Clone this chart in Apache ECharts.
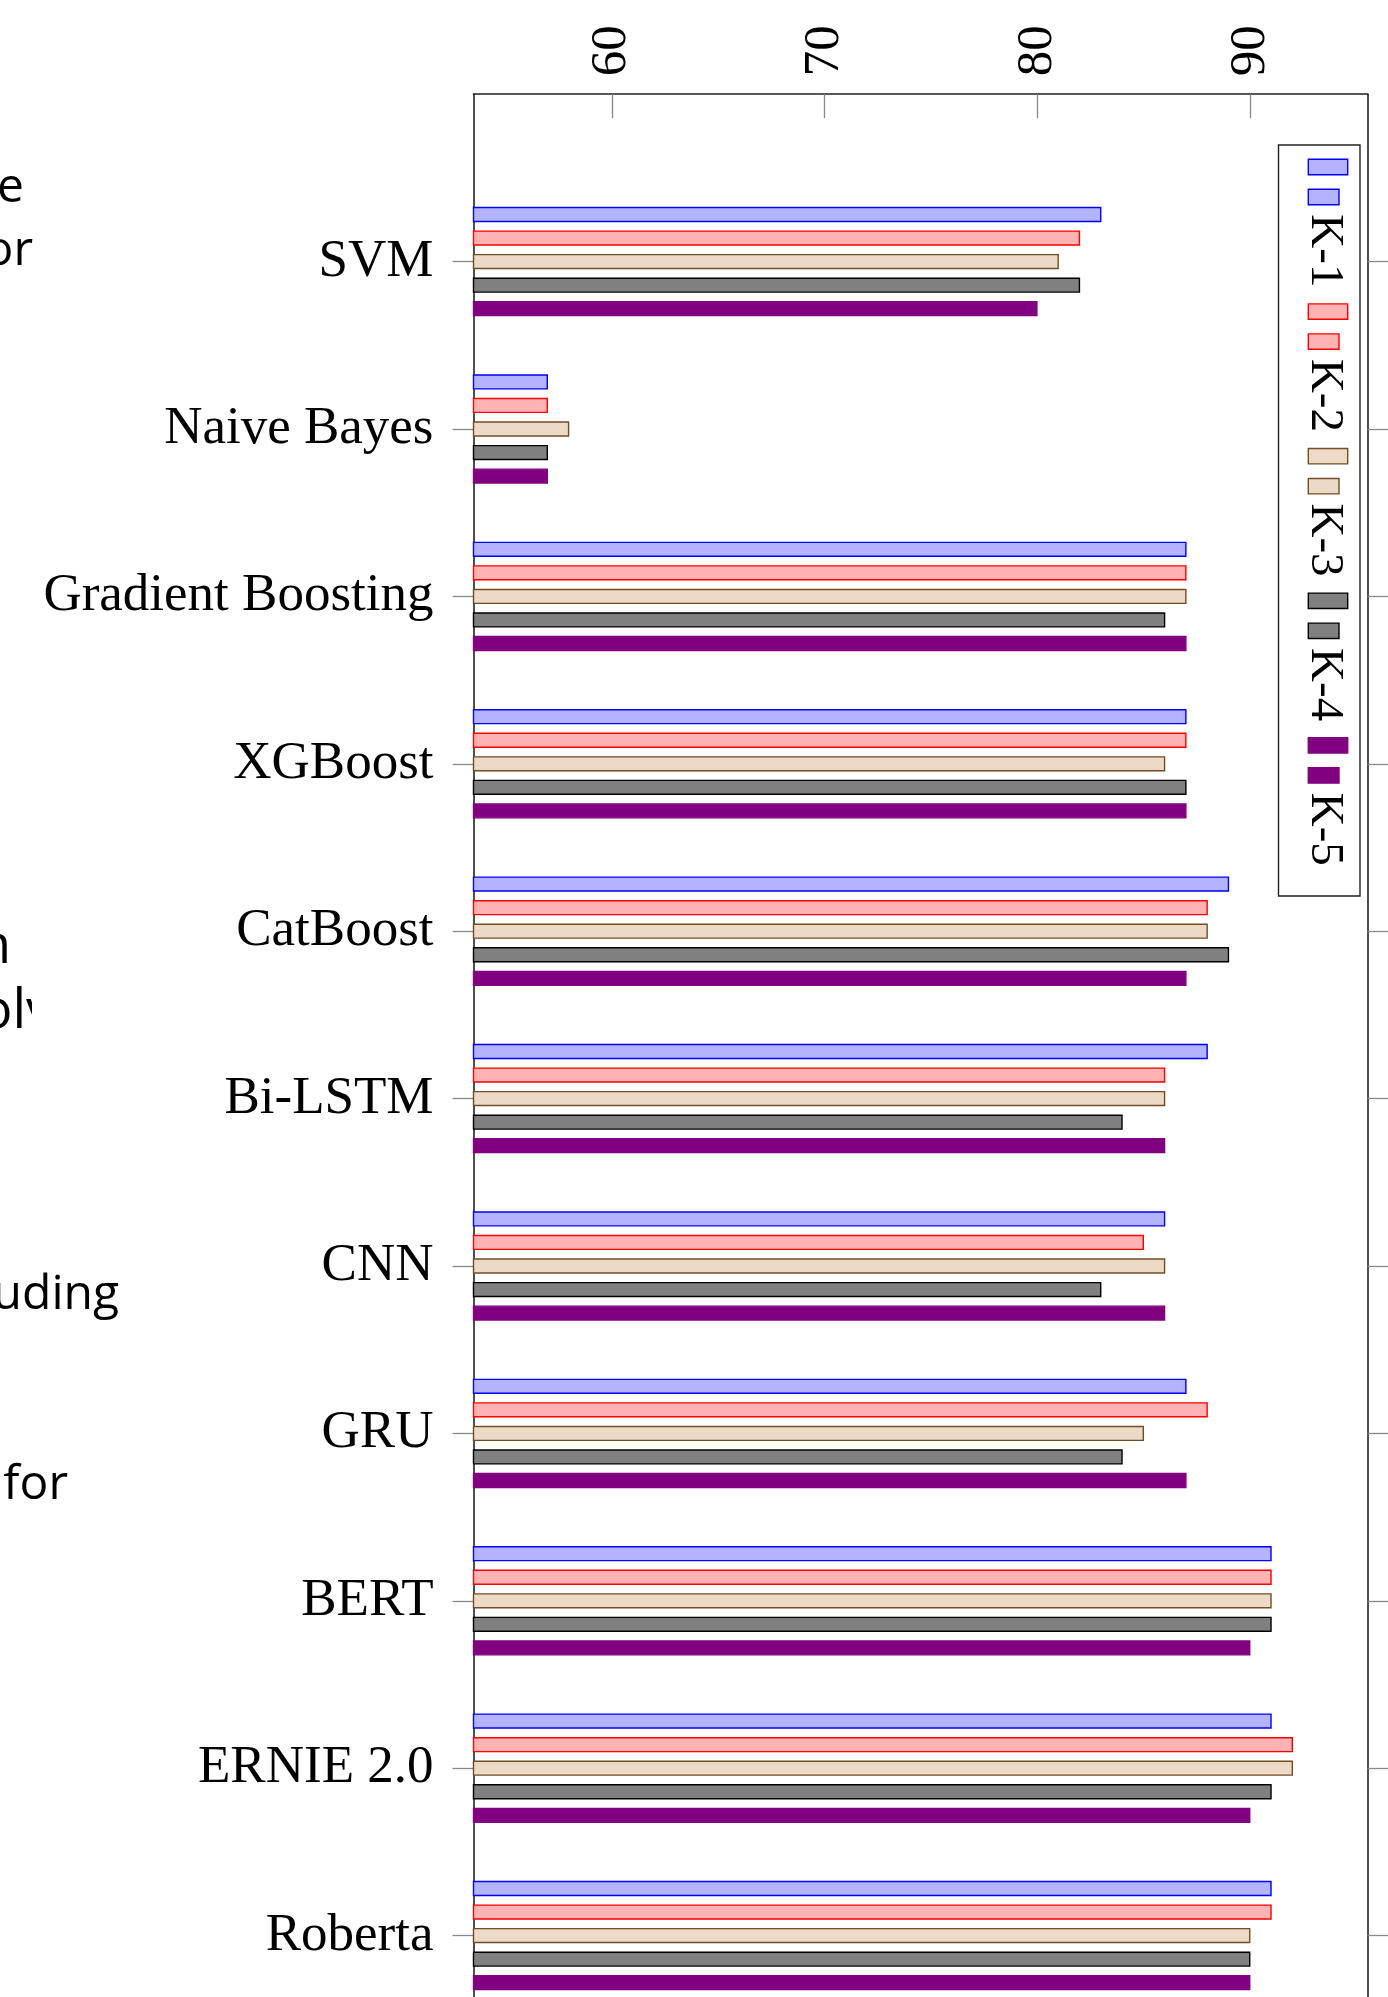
<!DOCTYPE html>
<html>
<head>
<meta charset="utf-8">
<script src="https://cdn.jsdelivr.net/npm/echarts@6/dist/echarts.min.js"></script>
<style>
html, body { margin: 0; padding: 0; background: #fff; }
#chart { width: 1388px; height: 1997px; }
</style>
</head>
<body>
<div id="chart"></div>
<script>
// Accuracy (%) per model for each fold K-1 … K-5
const models = ['SVM', 'Naive Bayes', 'Gradient Boosting', 'XGBoost', 'CatBoost', 'Bi-LSTM', 'CNN', 'GRU', 'BERT', 'ERNIE 2.0', 'Roberta'];
const seriesNames = ['K-1', 'K-2', 'K-3', 'K-4', 'K-5'];
const k1 = [83, 57, 87, 87, 89, 88, 86, 87, 91, 91, 91];
const k2 = [82, 57, 87, 87, 88, 86, 85, 88, 91, 92, 91];
const k3 = [81, 58, 87, 86, 88, 86, 86, 85, 91, 92, 90];
const k4 = [82, 57, 86, 87, 89, 84, 83, 84, 91, 91, 90];
const k5 = [80, 57, 87, 87, 87, 86, 86, 87, 90, 90, 90];
const xTicks = [60, 70, 80, 90];

// bar styles (fill / outline) per fold
const fills   = ['#b3b3ff', '#ffb3b3', '#ecd9c6', '#808080', '#800080'];
const strokes = ['#0000ff', '#ff0000', '#734d26', '#000000', '#800080'];

const SERIF = '"Liberation Serif", "Times New Roman", serif';
const SANS = '"Open Sans", "Noto Sans", sans-serif';

// one empty slot above and below the models keeps a full step of space at the ends
const yCats = [''].concat(models, [' ']);
const values = [k1, k2, k3, k4, k5];

const STEP = 167.4;
const gridTop = 94.2;
const gridLeft = 473.5;
const gridWidth = 894;

const isCat = function (idx, v) { return String(v).trim() !== ''; };

// rotated legend box on the right
const legendEls = [{
  type: 'rect', z: 10,
  shape: { x: 1278.5, y: 145, width: 81.5, height: 751 },
  style: { fill: '#fff', stroke: '#222', lineWidth: 1.4 }
}];
seriesNames.forEach(function (name, i) {
  const y0 = 159.3 + i * 144.6;
  legendEls.push({
    type: 'rect', z: 11,
    shape: { x: 1308.3, y: y0, width: 39.4, height: 15.4 },
    style: { fill: fills[i], stroke: strokes[i], lineWidth: 1.4 }
  });
  legendEls.push({
    type: 'rect', z: 11,
    shape: { x: 1308.3, y: y0 + 30, width: 30.7, height: 15.4 },
    style: { fill: fills[i], stroke: strokes[i], lineWidth: 1.4 }
  });
  legendEls.push({
    type: 'text', z: 11,
    x: 1324, y: y0 + 55, rotation: -Math.PI / 2,
    style: {
      text: name, font: '47px ' + SERIF, fill: '#000',
      align: 'left', verticalAlign: 'middle',
      textAlign: 'left', textVerticalAlign: 'middle'
    }
  });
});

// fragments of the neighbouring page text along the left edge
function frag(text, x, y, size) {
  return {
    type: 'text', z: 5, x: x, y: y,
    style: {
      text: text, font: size + 'px ' + SANS, fill: '#000',
      align: 'right', verticalAlign: 'bottom',
      textAlign: 'right', textVerticalAlign: 'bottom'
    }
  };
}
const pageText = [
  frag('e', 24, 212, 48),
  frag('or', 33, 275, 48),
  frag('n', 11, 975, 54),
  frag('olv', 53, 1040, 54),
  { type: 'rect', z: 6, shape: { x: 32, y: 980, width: 40, height: 60 }, style: { fill: '#fff' } },
  frag('uding', 119, 1319, 48),
  frag('for', 68, 1509, 48)
];

const chart = echarts.init(document.getElementById('chart'), null, { renderer: 'canvas' });

chart.setOption({
  animation: false,
  backgroundColor: '#fff',
  grid: {
    left: gridLeft, top: gridTop, width: gridWidth, height: STEP * (yCats.length - 1),
    containLabel: false, outerBoundsMode: 'none'
  },
  xAxis: {
    type: 'value', position: 'top', min: 53.5, max: 95.5,
    axisLine: { show: true, onZero: false, lineStyle: { color: '#222', width: 1.6 } },
    axisTick: { show: true, inside: true, length: 24, customValues: xTicks, lineStyle: { color: '#888', width: 1.3 } },
    axisLabel: { show: true, rotate: -90, margin: 18, customValues: xTicks, fontFamily: SERIF, fontSize: 51, color: '#000' },
    splitLine: { show: false }
  },
  yAxis: [{
    type: 'category', data: yCats, inverse: true, boundaryGap: false, position: 'left',
    axisLine: { show: true, onZero: false, lineStyle: { color: '#222', width: 1.6 } },
    axisTick: { show: true, inside: false, length: 21, interval: isCat, lineStyle: { color: '#888', width: 1.3 } },
    axisLabel: { show: true, interval: 0, margin: 40, fontFamily: SERIF, fontSize: 53, color: '#000', padding: [0, 0, 8, 0] },
    splitLine: { show: false }
  }, {
    type: 'category', data: yCats, inverse: true, boundaryGap: false, position: 'right',
    axisLine: { show: true, onZero: false, lineStyle: { color: '#222', width: 1.6 } },
    axisTick: { show: true, inside: false, length: 21, interval: isCat, lineStyle: { color: '#888', width: 1.3 } },
    axisLabel: { show: false },
    splitLine: { show: false }
  }],
  series: seriesNames.map(function (name, i) {
    return {
      type: 'bar', name: name, yAxisIndex: 0, xAxisIndex: 0,
      barWidth: 15.3, barGap: '54%', clip: true,
      data: [null].concat(values[i], [null]),
      itemStyle: { color: fills[i], borderColor: strokes[i], borderWidth: 1.4 }
    };
  }),
  graphic: { elements: legendEls.concat(pageText) }
});
</script>
</body>
</html>
